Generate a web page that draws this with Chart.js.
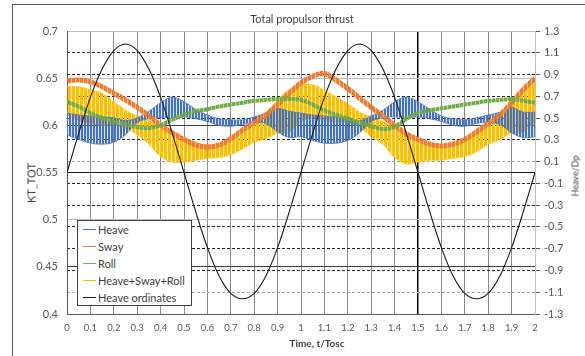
<!DOCTYPE html>
<html><head><meta charset="utf-8">
<script src="https://cdn.jsdelivr.net/npm/chart.js@4.4.1/dist/chart.umd.min.js"></script>
<style>
html,body{margin:0;padding:0;background:#fff;}
#wrap{position:relative;width:585px;height:356px;overflow:hidden;background:#fff;}
#c{position:absolute;left:0;top:0;}
#frame{position:absolute;left:12px;top:4px;width:700px;height:500px;border-left:1px solid #595959;border-top:1px solid #595959;}
.txt{position:absolute;font-family:Lato,sans-serif;color:#404040;white-space:nowrap;}
#legend{position:absolute;left:77px;top:220px;width:115px;height:86px;border:1px solid #404040;background:#fff;box-sizing:border-box;font-family:Lato,sans-serif;font-size:11px;color:#404040;}
.item{height:17px;display:flex;align-items:center;}
.sw{width:13px;height:0;border-top:1.5px solid;margin-left:5px;margin-right:2px;}
</style></head>
<body>
<div id="wrap">
<div id="frame"></div>
<canvas id="c" width="585" height="356"></canvas>
<div class="txt" id="title" style="left:0;width:604px;top:12px;text-align:center;font-size:11px;line-height:13px;">Total propulsor thrust</div>
<div class="txt" id="xtitle" style="left:0;width:634px;top:337px;text-align:center;font-size:10px;line-height:12px;font-weight:bold;">Time, t/Tosc</div>
<div class="txt" id="ytitle" style="left:31px;top:183px;font-size:11px;line-height:13px;transform:translate(-50%,-50%) rotate(-90deg);">KT_TOT</div>
<div class="txt" id="y2title" style="left:575px;top:176px;font-size:9px;line-height:11px;transform:translate(-50%,-50%) rotate(-90deg);">Heave/Dp</div>
<div id="legend"></div>
</div>
<script>
// ---- data ----
const tVals = [0,0.05,0.1,0.15,0.2,0.25,0.3,0.35,0.4,0.45,0.5,0.55,0.6,0.65,0.7,0.75,0.8,0.85,0.9,0.95,1,
  1.05,1.1,1.15,1.2,1.25,1.3,1.35,1.4,1.45,1.5,1.55,1.6,1.65,1.7,1.75,1.8,1.85,1.9,1.95,2];
const heaveUpper = [0.613,0.611,0.610,0.609,0.608,0.605,0.608,0.615,0.624,0.630,0.625,0.617,0.611,0.607,0.606,0.606,0.609,0.613,0.618,0.615,0.613,
  0.611,0.610,0.609,0.608,0.605,0.610,0.616,0.625,0.630,0.625,0.617,0.610,0.607,0.606,0.608,0.611,0.614,0.619,0.614,0.614];
const heaveLower = [0.590,0.585,0.581,0.580,0.582,0.590,0.603,0.607,0.608,0.608,0.609,0.607,0.604,0.600,0.599,0.601,0.603,0.602,0.593,0.587,0.588,
  0.584,0.581,0.581,0.584,0.592,0.604,0.608,0.609,0.608,0.609,0.607,0.604,0.600,0.599,0.602,0.603,0.601,0.592,0.587,0.588];
const swayValues = [0.647,0.648,0.646,0.641,0.634,0.627,0.619,0.610,0.600,0.592,0.585,0.579,0.577,0.579,0.586,0.595,0.603,0.611,0.622,0.634,0.645,
  0.652,0.655,0.648,0.639,0.629,0.619,0.610,0.600,0.591,0.585,0.580,0.578,0.580,0.585,0.593,0.602,0.611,0.624,0.638,0.650];
const rollValues = [0.625,0.620,0.613,0.608,0.604,0.601,0.598,0.597,0.600,0.606,0.611,0.615,0.617,0.620,0.622,0.624,0.626,0.627,0.628,0.628,0.627,
  0.622,0.616,0.611,0.607,0.603,0.599,0.596,0.598,0.607,0.613,0.616,0.618,0.620,0.622,0.624,0.626,0.627,0.628,0.626,0.624];
const combinedUpper = [0.641,0.641,0.638,0.634,0.625,0.616,0.610,0.605,0.598,0.592,0.587,0.582,0.579,0.579,0.584,0.592,0.602,0.613,0.627,0.638,0.643,
  0.643,0.637,0.630,0.623,0.614,0.609,0.604,0.597,0.591,0.586,0.581,0.579,0.580,0.584,0.591,0.601,0.612,0.625,0.637,0.646];
const combinedLower = [0.611,0.605,0.602,0.600,0.600,0.597,0.590,0.580,0.567,0.561,0.561,0.563,0.565,0.566,0.569,0.575,0.582,0.586,0.592,0.593,0.604,
  0.608,0.605,0.604,0.603,0.598,0.588,0.580,0.566,0.559,0.561,0.563,0.563,0.565,0.567,0.572,0.580,0.585,0.592,0.593,0.604];
const heaveOrdinates = [0,0.36,0.69,0.95,1.12,1.18,1.12,0.95,0.69,0.36,0,-0.36,-0.69,-0.95,-1.11,-1.16,-1.11,-0.95,-0.69,-0.36,0,
  0.36,0.69,0.95,1.12,1.18,1.12,0.95,0.69,0.36,0,-0.36,-0.69,-0.95,-1.11,-1.16,-1.11,-0.95,-0.69,-0.36,0];
const xTickValues = [0,0.1,0.2,0.3,0.4,0.5,0.6,0.7,0.8,0.9,1,1.1,1.2,1.3,1.4,1.5,1.6,1.7,1.8,1.9,2];
const leftTickValues = [0.4,0.45,0.5,0.55,0.6,0.65,0.7];
const rightTickValues = [-1.3,-1.1,-0.9,-0.7,-0.5,-0.3,-0.1,0.1,0.3,0.5,0.7,0.9,1.1,1.3];
const seriesNames = ['Heave','Sway','Roll','Heave+Sway+Roll','Heave ordinates'];
const seriesColors = ['#4472c4','#ed7d31','#70ad47','#ffc000','#1a1a1a'];

// ---- legend (HTML) ----
const lg = document.getElementById('legend');
seriesNames.forEach((n,i)=>{
  const d=document.createElement('div'); d.className='item';
  d.innerHTML='<span class="sw" style="border-color:'+seriesColors[i]+'"></span><span>'+n+'</span>';
  lg.appendChild(d);
});

const canvas = document.getElementById('c');
const ctx = canvas.getContext('2d');
function stripes(color, light, pattern){
  const p=document.createElement('canvas'); p.width=pattern.length; p.height=4;
  const g=p.getContext('2d');
  pattern.forEach((on,i)=>{ g.fillStyle = on ? color : light; g.fillRect(i,0,1,4); });
  return ctx.createPattern(p,'repeat');
}
const bluePat = stripes('#4472c4','rgba(68,114,196,0.2)',[1,1,0]);
const yellowPat = stripes('#ffc000','rgba(255,192,0,0.3)',[1,1,1,0]);
const orangePat = stripes('#ed7d31','rgba(237,125,49,0.55)',[1,1,1,0]);
const greenPat = stripes('#70ad47','rgba(112,173,71,0.55)',[1,1,1,0]);

const pts = arr => tVals.map((t,i)=>({x:t,y:arr[i]}));
const base = {pointRadius:0, tension:0.35, yAxisID:'y'};

const data = {datasets:[
  Object.assign({}, base, {label:seriesNames[4], data:pts(heaveOrdinates), yAxisID:'y2', borderColor:'#1a1a1a', borderWidth:1.1, fill:false, order:0}),
  Object.assign({}, base, {label:seriesNames[2], data:pts(rollValues), borderColor:greenPat, borderWidth:4, fill:false, order:1}),
  Object.assign({}, base, {label:seriesNames[1], data:pts(swayValues), borderColor:orangePat, borderWidth:5, fill:false, order:2}),
  Object.assign({}, base, {label:'Heave lower', data:pts(heaveLower), borderColor:'rgba(68,114,196,0.7)', borderWidth:1, fill:false, order:3}),
  Object.assign({}, base, {label:seriesNames[0], data:pts(heaveUpper), borderColor:'rgba(68,114,196,0.7)', borderWidth:1, fill:'-1', backgroundColor:bluePat, order:3}),
  Object.assign({}, base, {label:'HSR lower', data:pts(combinedLower), borderColor:'rgba(255,192,0,0.7)', borderWidth:1, fill:false, order:4}),
  Object.assign({}, base, {label:seriesNames[3], data:pts(combinedUpper), borderColor:'rgba(255,192,0,0.7)', borderWidth:1, fill:'-1', backgroundColor:yellowPat, order:4})
]};

const tickFont = {family:'Lato', size:11};
const near = (a,b)=>Math.abs(a-b)<1e-6;
const leftGridColor = v => (near(v,0.6)||near(v,0.45)) ? '#404040' : near(v,0.55) ? '#1a1a1a' : near(v,0.4) ? 'rgba(0,0,0,0)' : '#bfbfbf';
const rightGridColor = v => (near(Math.abs(v),1.3)) ? 'rgba(0,0,0,0)' : (near(v,0.1)||near(v,-1.1)) ? '#a6a6a6' : '#262626';

new Chart(ctx, {
  type:'line',
  data,
  options:{
    responsive:false, animation:false, devicePixelRatio:1,
    layout:{padding:{top:31,left:0,right:0,bottom:0}},
    plugins:{legend:{display:false}, tooltip:{enabled:false}, title:{display:false}},
    scales:{
      x:{type:'linear', min:0, max:2,
        afterBuildTicks:s=>{s.ticks=xTickValues.map(v=>({value:v}));},
        afterFit:s=>{s.height=42;},
        ticks:{callback:v=>String(Math.round(v*10)/10), font:{family:'Lato',size:9.5}, color:'#595959', padding:8, autoSkip:false, maxRotation:0},
        grid:{drawTicks:false, color:c=>{const v=c.tick?c.tick.value:0; return near(v,1.5)?'#000':near(v,0)?'rgba(0,0,0,0)':near(v,2)?'#bfbfbf':'#8c8c8c';}, lineWidth:c=>(c.tick&&near(c.tick.value,1.5))?1.5:1},
        border:{color:'#595959'}
      },
      y:{type:'linear', position:'left', min:0.4, max:0.7,
        afterBuildTicks:s=>{s.ticks=leftTickValues.map(v=>({value:v}));},
        afterFit:s=>{s.width=67;},
        ticks:{callback:v=>String(v), font:tickFont, color:'#595959', padding:9},
        grid:{drawTicks:false, color:c=>leftGridColor(c.tick?c.tick.value:0)},
        border:{color:'#595959'}
      },
      y2:{type:'linear', position:'right', min:-1.3, max:1.3,
        afterBuildTicks:s=>{s.ticks=rightTickValues.map(v=>({value:v}));},
        afterFit:s=>{s.width=50;},
        ticks:{callback:v=>Number(v).toFixed(1), font:tickFont, color:'#595959', padding:4},
        grid:{drawOnChartArea:true, tickLength:5, tickColor:'#595959', color:c=>rightGridColor(c.tick?c.tick.value:0)},
        border:{color:'#bfbfbf', dash:[3,2]}
      }
    }
  }
});
</script>
</body></html>
